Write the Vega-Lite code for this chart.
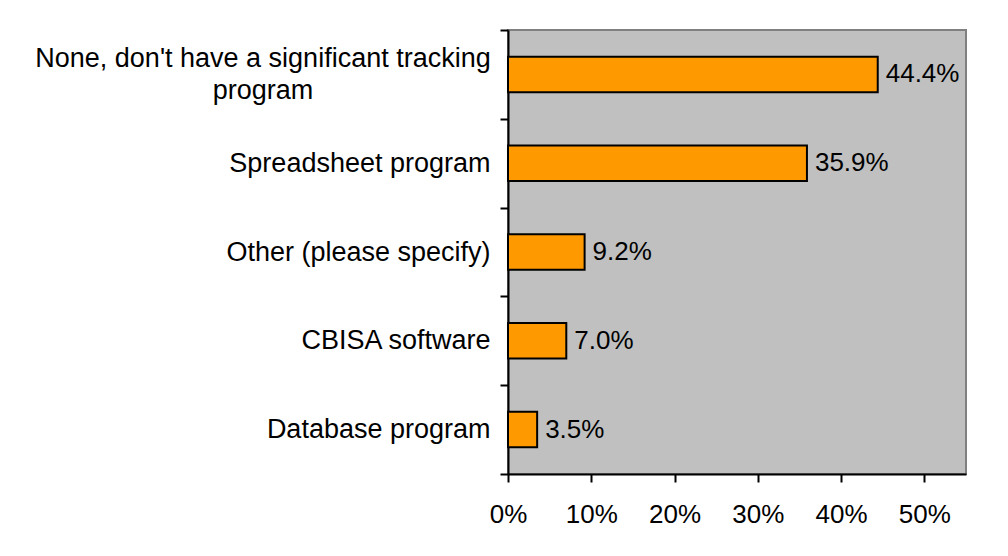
{
  "$schema": "https://vega.github.io/schema/vega-lite/v6.json",
  "autosize": {"type": "none"},
  "width": 458,
  "height": 444,
  "padding": {"left": 508, "top": 30, "right": 42, "bottom": 82},
  "background": "white",
  "config": {
    "font": "Liberation Sans",
    "view": {"fill": "#C0C0C0", "stroke": "#808080", "strokeWidth": 2}
  },
  "data": {
    "values": [
      {"category": "None, don't have a significant tracking program", "pct": 0.444},
      {"category": "Spreadsheet program", "pct": 0.359},
      {"category": "Other (please specify)", "pct": 0.092},
      {"category": "CBISA software", "pct": 0.070},
      {"category": "Database program", "pct": 0.035}
    ]
  },
  "encoding": {
    "y": {
      "field": "category",
      "type": "nominal",
      "sort": null,
      "scale": {"paddingInner": 0, "paddingOuter": 0},
      "axis": {
        "title": null,
        "tickBand": "extent",
        "tickSize": 8,
        "tickWidth": 2,
        "tickColor": "black",
        "domainColor": "black",
        "domainWidth": 2,
        "labelFontSize": 27,
        "labelColor": "black",
        "labelLimit": 500,
        "labelLineHeight": 32,
        "labelAlign": {"condition": {"test": "datum.value == \"None, don't have a significant tracking program\"", "value": "center"}, "value": "right"},
        "labelPadding": {"condition": {"test": "datum.value == \"None, don't have a significant tracking program\"", "value": 237.5}, "value": 10},
        "labelOffset": {"condition": {"test": "datum.value == \"None, don't have a significant tracking program\"", "value": -16}, "value": 0},
        "labelExpr": "datum.value == \"None, don't have a significant tracking program\" ? [\"None, don't have a significant tracking\", \"program\"] : datum.label"
      }
    },
    "x": {
      "field": "pct",
      "type": "quantitative",
      "scale": {"domain": [0, 0.55], "nice": false},
      "axis": {
        "title": null,
        "values": [0, 0.1, 0.2, 0.3, 0.4, 0.5],
        "format": ".0%",
        "grid": false,
        "labelFlush": false,
        "tickSize": 8,
        "tickWidth": 2,
        "tickColor": "black",
        "domainColor": "black",
        "domainWidth": 2,
        "labelFontSize": 26,
        "labelColor": "black",
        "labelPadding": 19
      }
    }
  },
  "layer": [
    {
      "mark": {"type": "bar", "fill": "#FF9900", "stroke": "black", "strokeWidth": 2, "height": {"band": 0.4}}
    },
    {
      "mark": {"type": "text", "align": "left", "baseline": "middle", "dx": 8, "fontSize": 26, "color": "black"},
      "encoding": {
        "text": {"field": "pct", "type": "quantitative", "format": ".1%"}
      }
    }
  ]
}
